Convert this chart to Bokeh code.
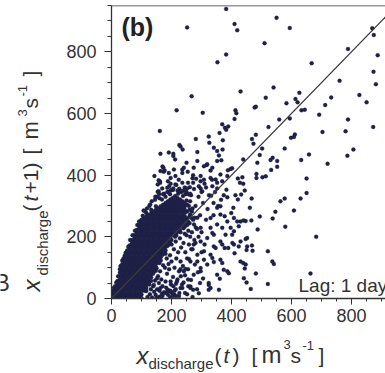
from math import pi
from bokeh.plotting import figure
from bokeh.layouts import row, column
from bokeh.models import ColumnDataSource, Label, Span, FixedTicker, Slope
from bokeh.core.properties import value
from bokeh.embed import file_html
from bokeh.resources import INLINE

# ---------------- data ----------------
x_ticks = [0, 200, 400, 600, 800]
y_ticks = [0, 200, 400, 600, 800]
x_max = 913
y_max = 950
panel_label = "(b)"
lag_label = "Lag: 1 day"

# dense diagonal band: one x per column, estimated y values of the points in it
cluster_col_x = [4, 12, 20, 28, 36, 44, 52, 60, 68, 76, 84, 92, 100, 108, 116, 124, 132, 140,
                 148, 156, 164, 172, 180, 188, 196, 204, 212, 220, 228, 236, 244, 252, 260, 268]
cluster_col_y = [
    [2, 13, 24],
    [7, 18, 29, 40],
    [2, 13, 24, 35, 46, 57],
    [7, 18, 29, 40, 51, 62, 73, 84, 95],
    [2, 13, 24, 35, 46, 57, 68, 79, 90, 101, 112, 123],
    [7, 18, 29, 40, 51, 62, 73, 84, 95, 106, 117, 128, 139],
    [2, 13, 24, 35, 46, 57, 68, 79, 90, 101, 112, 123, 134, 145, 156],
    [7, 18, 29, 40, 51, 62, 73, 84, 95, 106, 117, 128, 139, 150, 161, 172],
    [2, 13, 24, 35, 46, 57, 68, 79, 90, 101, 112, 123, 134, 145, 156, 167, 178, 189],
    [7, 18, 29, 40, 51, 62, 73, 84, 95, 106, 117, 128, 139, 150, 161, 172, 183, 194, 205],
    [2, 13, 24, 35, 46, 57, 68, 79, 90, 101, 112, 123, 134, 145, 156, 167, 178, 189, 200, 211,
     222],
    [7, 18, 29, 40, 51, 62, 73, 84, 95, 106, 117, 128, 139, 150, 161, 172, 183, 194, 205, 216,
     227, 238],
    [2, 13, 24, 35, 46, 57, 68, 79, 90, 101, 112, 123, 134, 145, 156, 167, 178, 189, 200, 211,
     222, 233, 244, 255],
    [29, 40, 51, 62, 73, 84, 95, 106, 117, 128, 139, 150, 161, 172, 183, 194, 205, 216, 227,
     238, 249, 260],
    [24, 35, 46, 57, 68, 79, 90, 101, 112, 123, 134, 145, 156, 167, 178, 189, 200, 211, 222, 233,
     244, 255, 266, 277],
    [51, 62, 73, 84, 95, 106, 117, 128, 139, 150, 161, 172, 183, 194, 205, 216, 227, 238,
     249, 260, 271],
    [57, 68, 79, 90, 101, 112, 123, 134, 145, 156, 167, 178, 189, 200, 211, 222, 233, 244, 255,
     266, 277, 288],
    [84, 95, 106, 117, 128, 139, 150, 161, 172, 183, 194, 205, 216, 227, 238, 249, 260, 271,
     282],
    [90, 101, 112, 123, 134, 145, 156, 167, 178, 189, 200, 211, 222, 233, 244, 255, 266, 277,
     288, 299],
    [117, 128, 139, 150, 161, 172, 183, 194, 205, 216, 227, 238, 249, 260, 271, 282, 293],
    [123, 134, 145, 156, 167, 178, 189, 200, 211, 222, 233, 244, 255, 266, 277, 288, 299],
    [150, 161, 172, 183, 194, 205, 216, 227, 238, 249, 260, 271, 282, 293, 304],
    [145, 156, 167, 178, 189, 200, 211, 222, 233, 244, 255, 266, 277, 288, 299, 310],
    [172, 183, 194, 205, 216, 227, 238, 249, 260, 271, 282, 293, 304, 315],
    [178, 189, 200, 211, 222, 233, 244, 255, 266, 277, 288, 299, 310, 321],
    [205, 216, 227, 238, 249, 260, 271, 282, 293, 304, 315, 326],
    [200, 211, 222, 233, 244, 255, 266, 277, 288, 299, 310, 321, 332],
    [216, 227, 238, 249, 260, 271, 282, 293, 304, 315, 326],
    [222, 233, 244, 255, 266, 277, 288, 299, 310, 321],
    [238, 249, 260, 271, 282, 293, 304, 315],
    [233, 244, 255, 266, 277, 288, 299, 310],
    [238, 260, 282, 304],
    [244, 266, 288],
    [260, 282],
]

# scattered points just below the band
below_pts = [(120, 5), (128, 14), (135, 3), (142, 22), (131, 30), (139, 40), (147, 12), (152, 30),
             (158, 50), (145, 58), (155, 72), (162, 88), (166, 62), (170, 40), (175, 20), (168, 15),
             (180, 55), (185, 80), (178, 100), (190, 112), (172, 108), (184, 130), (195, 140),
             (200, 120), (192, 95), (205, 70), (210, 100), (198, 45), (214, 30), (220, 62),
             (225, 88), (216, 130), (222, 150), (230, 120), (238, 105), (232, 165), (240, 180),
             (246, 150), (252, 130), (258, 175), (262, 200), (250, 205), (268, 215), (275, 240),
             (285, 225), (270, 160), (280, 180), (290, 200), (300, 215), (245, 75), (255, 95),
             (265, 60), (278, 110), (288, 85), (300, 150), (310, 175), (295, 50), (305, 65),
             (285, 30), (245, 18), (225, 8), (210, 12), (195, 5), (182, 35), (235, 45), (256, 40),
             (160, 25), (188, 28), (205, 8), (270, 5), (215, 48), (230, 95), (150, 3), (160, 6),
             (170, 9), (178, 18), (188, 12), (196, 25), (165, 4), (206, 40), (218, 55), (231, 72),
             (246, 96), (258, 128), (266, 160), (276, 190), (281, 230), (141, 44), (163, 34),
             (186, 23), (152, 66), (197, 55), (202, 17), (230, 34), (252, 14), (263, 34), (291, 17),
             (236, 34), (197, 23), (210, 25), (263, 39), (272, 28), (215, 8), (240, 52), (255, 62),
             (226, 18), (208, 160), (200, 175), (214, 185), (228, 195), (244, 210), (256, 220),
             (272, 255), (286, 262), (262, 272), (255, 250), (240, 228), (230, 215), (216, 205),
             (200, 190), (185, 170), (170, 142), (160, 115), (150, 98), (138, 80), (126, 45),
             (110, 25)]

# scattered points just above the band
above_pts = [(8, 35), (16, 52), (22, 72), (30, 105), (40, 130), (47, 148), (56, 168), (62, 190),
             (70, 205), (78, 220), (86, 238), (92, 250), (104, 268), (112, 282), (118, 292),
             (126, 300), (134, 315), (107, 285), (129, 305), (145, 320), (152, 330), (160, 325),
             (175, 340), (190, 345), (205, 352), (220, 350), (235, 348), (250, 340), (265, 335),
             (154, 346), (159, 339), (168, 321), (172, 338), (180, 330), (195, 338), (210, 325),
             (222, 340), (238, 332), (250, 345), (200, 352), (226, 356), (186, 345), (244, 360),
             (216, 368), (146, 330), (262, 315), (270, 292), (277, 262), (250, 318), (258, 300),
             (246, 338), (232, 345)]

mid_pts = [(286, 475), (163, 469), (191, 473), (206, 469), (206, 462), (212, 451), (352, 478),
           (358, 464), (352, 446), (366, 448), (250, 440), (308, 429), (317, 433), (170, 428),
           (173, 424), (177, 415), (163, 413), (174, 411), (208, 418), (236, 418), (236, 407),
           (274, 424), (330, 415), (363, 402), (388, 416), (397, 420), (402, 422), (143, 397),
           (161, 380), (188, 380), (197, 372), (192, 364), (224, 385), (236, 375), (272, 400),
           (282, 388), (272, 375), (297, 380), (308, 385), (330, 391), (347, 386), (352, 375),
           (386, 397), (421, 389), (428, 375), (157, 348), (169, 357), (197, 350), (206, 357),
           (241, 350), (252, 357), (261, 361), (291, 364), (297, 357), (302, 348), (336, 364),
           (352, 357), (369, 380), (383, 353), (157, 383), (154, 370), (162, 375), (191, 407),
           (197, 391), (213, 397), (241, 424), (254, 411), (286, 446), (319, 435), (336, 424),
           (297, 397), (186, 359), (213, 370), (230, 348), (258, 337), (262, 340), (275, 355),
           (290, 330), (300, 345), (315, 360), (325, 335), (280, 300), (305, 310), (320, 290),
           (340, 310), (255, 375), (270, 390), (310, 372), (335, 385), (345, 345), (295, 270),
           (315, 255), (340, 270), (355, 300), (365, 320)]

low_pts = [(332, 333), (374, 335), (386, 328), (413, 335), (421, 321), (352, 294), (363, 299),
           (377, 267), (399, 277), (406, 294), (419, 250), (424, 234), (369, 229), (397, 229),
           (402, 207), (336, 212), (341, 169), (369, 175), (377, 164), (403, 180), (410, 147),
           (424, 169), (308, 126), (336, 131), (341, 118), (363, 126), (369, 115), (286, 120),
           (386, 88), (361, 64), (324, 50), (330, 34), (297, 88), (430, 120), (324, 44),
           (324, 28), (358, 28), (352, 77), (374, 93), (391, 82), (441, 66), (447, 110),
           (274, 77), (297, 99), (319, 110), (241, 88), (263, 120), (286, 142), (308, 153),
           (330, 142), (347, 164), (274, 175), (297, 185), (319, 196), (341, 207), (363, 185),
           (380, 207), (408, 175), (430, 185), (452, 196), (386, 250), (408, 261), (430, 250),
           (330, 229), (352, 240), (297, 229), (330, 261), (363, 272), (408, 218), (389, 164)]

right_pts = [(786, 463), (439, 451), (494, 465), (486, 440), (530, 449), (537, 456), (552, 446),
             (552, 427), (532, 417), (632, 449), (658, 467), (720, 437), (436, 393), (439, 372),
             (483, 404), (483, 391), (503, 393), (514, 396), (650, 389), (444, 350), (432, 337),
             (467, 324), (563, 315), (577, 324), (630, 324), (650, 342), (461, 294), (546, 281),
             (608, 285), (440, 253), (447, 251), (466, 253), (494, 266), (537, 259), (487, 224),
             (579, 233), (682, 200), (447, 193), (452, 169), (468, 172), (450, 157), (470, 155),
             (521, 153), (439, 115), (444, 97), (536, 120), (541, 112), (481, 81), (663, 81),
             (450, 52), (464, 31), (521, 47)]

outer_pts = [(550, 910), (594, 877), (510, 828), (869, 876), (874, 854), (788, 809), (887, 789),
             (667, 763), (873, 735), (760, 706), (881, 695), (430, 671), (540, 684), (514, 651),
             (626, 667), (613, 647), (620, 636), (583, 633), (732, 652), (826, 660), (850, 636),
             (712, 627), (477, 619), (481, 622), (633, 610), (644, 612), (692, 596), (559, 580),
             (594, 584), (788, 580), (523, 556), (872, 556), (481, 531), (468, 517), (473, 502),
             (598, 521), (608, 524), (611, 532), (703, 540), (780, 542), (502, 486), (577, 486),
             (806, 483), (382, 939), (252, 879), (410, 890), (419, 870), (382, 791), (353, 766),
             (267, 656), (217, 610), (304, 602), (413, 610), (416, 601), (410, 582), (161, 543),
             (369, 565), (378, 554), (382, 547), (389, 558), (360, 537), (281, 517), (324, 525),
             (326, 505), (341, 489), (371, 513), (370, 483), (226, 498), (230, 493), (237, 483)]

# ---------------- build ----------------
xs, ys = [], []
for cx, col in zip(cluster_col_x, cluster_col_y):
    xs += [cx] * len(col)
    ys += col
for group in (below_pts, above_pts, mid_pts, low_pts, right_pts, outer_pts):
    for a, b in group:
        xs.append(a)
        ys.append(b)
src = ColumnDataSource(dict(x=xs, y=ys))

INK = "#333333"
DOT = "#1e2046"
FONT = "Liberation Sans"
W, H = 385, 373
LW = 56          # width of strip holding the rotated y label
BH = 38          # height of strip holding the x label
MH = H - BH      # height of the main row
F_TOP, F_BOT = 5, 298   # frame top / bottom in page pixels

p = figure(width=W - LW, height=MH, x_range=(0, x_max), y_range=(0, y_max),
           output_backend="svg", toolbar_location=None,
           min_border_left=111 - LW, min_border_right=0, min_border_top=F_TOP,
           min_border_bottom=MH - F_BOT)
p.outline_line_color = None
p.grid.visible = False
p.background_fill_color = "white"
p.border_fill_color = "white"

p.scatter("x", "y", source=src, size=4, fill_color=DOT, line_color=DOT, line_width=0.3)
p.add_layout(Slope(gradient=1, y_intercept=0, line_color="#3c3c3c", line_width=1.2))
p.add_layout(Span(location=y_max, dimension="width", line_color=INK, line_width=1.5))

for ax, ticks in ((p.xaxis[0], x_ticks), (p.yaxis[0], y_ticks)):
    ax.ticker = FixedTicker(ticks=ticks, minor_ticks=list(range(0, 951, 50)))
    ax.axis_line_color = INK
    ax.axis_line_width = 1.3
    ax.major_tick_line_color = INK
    ax.minor_tick_line_color = INK
    ax.major_tick_in = 0
    ax.minor_tick_in = 0
    ax.major_label_text_font = FONT
    ax.major_label_text_font_size = "18px"
    ax.major_label_text_color = INK
p.yaxis[0].major_tick_out = 7
p.yaxis[0].minor_tick_out = 4
p.yaxis[0].major_label_standoff = 8
p.xaxis[0].major_tick_out = 6
p.xaxis[0].minor_tick_out = 3
p.xaxis[0].major_label_standoff = 4

# in-frame notes (screen units relative to the frame, anchored at text middle)
p.add_layout(Label(x=10, y=272, x_units="screen", y_units="screen", text=panel_label,
                   text_font=FONT, text_font_size="25px", text_font_style="bold",
                   text_color="#222222", text_baseline="middle", text_align="left"))
p.add_layout(Label(x=187, y=13, x_units="screen", y_units="screen", text=lag_label,
                   text_font=FONT, text_font_size="19px", text_color=INK,
                   text_baseline="middle", text_align="left"))


def strip(width, height, top=0, bottom=0):
    f = figure(width=width, height=height, x_range=(0, width),
               y_range=(0, height - top - bottom),
               output_backend="svg", toolbar_location=None, min_border=0,
               min_border_top=top, min_border_bottom=bottom, min_border_left=0,
               min_border_right=0, x_axis_location=None, y_axis_location=None)
    f.outline_line_color = None
    f.grid.visible = False
    f.background_fill_color = "white"
    f.border_fill_color = "white"
    return f


def put(f, x, y, text, size, style="normal", angle=0.0):
    f.text(x=[x], y=[y], text=[text], angle=angle, text_font=value(FONT),
           text_font_size=value(f"{size}px"), text_font_style=style, text_color=INK,
           text_align="left", text_baseline="middle")


# rotated y label: x_discharge (t+1) [ m^3 s^-1 ]   (y = 298 - page y)
ylab = strip(LW, MH, F_TOP, MH - F_BOT)
R = pi / 2
put(ylab, -6, 16, "B", 23)
put(ylab, 31, 7, "x", 24, "italic", R)
put(ylab, 42, 23, "discharge", 15, "normal", R)
put(ylab, 29.5, 87, "(", 21, "normal", R)
put(ylab, 29.5, 97, "t", 21, "italic", R)
put(ylab, 29.5, 105, "+1)", 21, "normal", R)
put(ylab, 29.5, 144, "[", 21, "normal", R)
put(ylab, 29.5, 159, "m", 22, "normal", R)
put(ylab, 21.5, 182, "3", 13, "normal", R)
put(ylab, 29.5, 190, "s", 21, "normal", R)
put(ylab, 21.5, 202, "-1", 13, "normal", R)
put(ylab, 29.5, 222, "]", 21, "normal", R)

# x label: x_discharge (t) [ m^3 s^-1 ]   (y = 373 - page y)
xlab = strip(W, BH)
put(xlab, 136, 18.4, "x", 24, "italic")
put(xlab, 148, 10.3, "discharge", 15)
put(xlab, 214, 18.4, "(", 21)
put(xlab, 223, 18.4, "t", 21, "italic")
put(xlab, 232, 18.4, ")", 21)
put(xlab, 251, 18.4, "[", 21)
put(xlab, 261, 18.7, "m", 24)
put(xlab, 283, 29.5, "3", 13)
put(xlab, 290, 18.4, "s", 21)
put(xlab, 302, 28.5, "-1", 13)
put(xlab, 318, 18.4, "]", 21)

layout = column(row(ylab, p), xlab)
open("out.html", "w").write(file_html(layout, INLINE))
